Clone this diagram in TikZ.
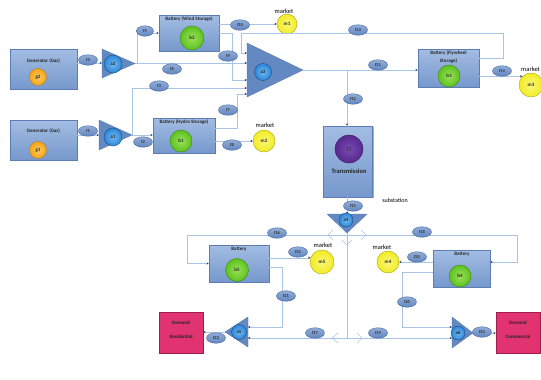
\documentclass[tikz,border=0pt]{standalone}
\usepackage{fontspec}
\setmainfont{Carlito}
\usetikzlibrary{shapes.geometric,arrows.meta,shadows}
\definecolor{linec}{HTML}{A9C4E4}
\definecolor{tipc}{HTML}{1F3864}
\definecolor{boxtop}{HTML}{A3BDE3}
\definecolor{boxbot}{HTML}{7698CC}
\definecolor{boxline}{HTML}{5B7DB3}
\definecolor{trif}{HTML}{6388C2}
\definecolor{ablue}{HTML}{2E86D8}
\definecolor{ablueL}{HTML}{6DB8F0}
\definecolor{ellT}{HTML}{90ADD8}
\definecolor{ellB}{HTML}{6386C0}
\definecolor{ellline}{HTML}{4A6BA3}
\definecolor{grn}{HTML}{5CC21E}
\definecolor{grnL}{HTML}{9AE05A}
\definecolor{org}{HTML}{F5A41C}
\definecolor{orgL}{HTML}{FBCB5A}
\definecolor{yel}{HTML}{F2EC22}
\definecolor{yelL}{HTML}{FAF67A}
\definecolor{pur}{HTML}{55298C}
\definecolor{purL}{HTML}{7A4BB5}
\definecolor{pnk}{HTML}{E0336F}
\definecolor{pnkline}{HTML}{A01E4E}
\begin{document}
\begin{tikzpicture}[x=1pt,y=-1pt,
  box/.style={draw=boxline, line width=0.5pt, top color=boxtop, bottom color=boxbot, inner sep=0pt,
    drop shadow={shadow xshift=1.2pt, shadow yshift=-1.2pt, opacity=0.45, fill=black!70}},
  dem/.style={draw=pnkline, line width=0.5pt, fill=pnk, inner sep=0pt,
    drop shadow={shadow xshift=1.2pt, shadow yshift=-1.2pt, opacity=0.45, fill=black!70}},
  btxt/.style={font=\fontsize{5}{5.5}\selectfont\bfseries, text=black!85, inner sep=0pt},
  dtxt/.style={font=\fontsize{5}{14}\selectfont\bfseries, text=black!85, inner sep=0pt, align=center},
  flab/.style={ellipse, draw=ellline, line width=0.4pt, top color=ellT, bottom color=ellB,
    minimum width=19pt, minimum height=10.5pt, inner sep=0pt, font=\fontsize{4.5}{4.5}\selectfont\bfseries, text=black!80},
  ball/.style={circle, line width=0.4pt, minimum size=#1, inner sep=0pt, font=\fontsize{5}{5}\selectfont\bfseries, text=black!85},
  gball/.style={ball=#1, draw=grn!70!black, inner color=grnL, outer color=grn},
  oball/.style={ball=#1, draw=org!75!black, inner color=orgL, outer color=org},
  yball/.style={ball=#1, draw=yel!70!black, inner color=yelL, outer color=yel},
  aball/.style={ball=#1, draw=ablue!60!black, inner color=ablueL, outer color=ablue},
  tri/.style={fill=trif, draw=trif!85!black, line width=0.3pt},
  conn/.style={draw=linec, line width=0.6pt},
  arr/.style={-{Stealth[length=2.3pt,width=2.2pt,color=tipc]}},
  chev/.style={draw=linec, line width=0.6pt},
  mkt/.style={font=\fontsize{6.5}{7}\selectfont, text=black, inner sep=0pt}]
\useasboundingbox (0,0) rectangle (541,380);

% ---------- boxes ----------
\node[box, minimum width=67pt, minimum height=40pt] (g2) at (43.5,69) {};
\node[btxt] (g2t) at (43.5,61) {Generator (Gas)};
\node[oball=17pt] (cg2) at (38,77) {g2};

\node[box, minimum width=67pt, minimum height=40pt] (g1) at (43.5,140) {};
\node[btxt] (g1t) at (43.5,131) {Generator (Gas)};
\node[oball=17pt] (cg1) at (38,150) {g1};

\node[box, minimum width=60pt, minimum height=36pt] (b2) at (189,33) {};
\node[btxt] (b2t) at (189,19) {Battery (Wind Storage)};
\node[gball=24pt] (cb2) at (192,38) {b2};

\node[box, minimum width=62pt, minimum height=35pt] (b1) at (184,135.5) {};
\node[btxt] (b1t) at (184,122) {Battery (Hydro Storage)};
\node[gball=22pt] (cb1) at (181,141) {b1};

\node[box, minimum width=61pt, minimum height=38pt] (b3) at (448.5,68) {};
\node[btxt, align=center, font=\fontsize{5}{7.5}\selectfont\bfseries] (b3t) at (448.5,57) {Battery (Flywheel\\Storage)};
\node[gball=22pt] (cb3) at (449,76) {b3};

\node[box, minimum width=49pt, minimum height=71pt] (t1) at (348,161.5) {};
\node[ball=28pt, draw=pur!70!black, inner color=purL, outer color=pur, font=\fontsize{6.5}{7}\selectfont] (ct1) at (349,149) {t1};
\node[btxt, font=\fontsize{6.5}{7}\selectfont\bfseries] (t1t) at (349,171) {Transmission};

\node[box, minimum width=60pt, minimum height=37pt] (b5) at (239,263.5) {};
\node[btxt] (b5t) at (239,249.5) {Battery};
\node[gball=23pt] (cb5) at (237,270) {b5};

\node[box, minimum width=57pt, minimum height=37pt] (b4) at (461.5,268.5) {};
\node[btxt] (b4t) at (462,254.5) {Battery};
\node[gball=22pt] (cb4) at (460,276) {b4};

\node[dem, minimum width=44pt, minimum height=41pt] (dres) at (181,332.5) {};
\node[dtxt] (drest) at (181,330) {Demand\\Residential};
\node[dem, minimum width=44pt, minimum height=41pt] (dcom) at (518,332.5) {};
\node[dtxt] (dcomt) at (518,330) {Demand\\Commercial};

% ---------- markets ----------
\node[yball=20pt] (m1) at (287,24) {m1};
\node[mkt] (m1t) at (284,11) {market};
\node[yball=22pt] (m2) at (264,141) {m2};
\node[mkt] (m2t) at (265,125.5) {market};
\node[yball=24pt] (m3) at (531,85) {m3};
\node[mkt, anchor=west] (m3t) at (521,69) {market};
\node[yball=24pt] (m5) at (322,262) {m5};
\node[mkt] (m5t) at (323,245) {market};
\node[yball=22pt] (m4) at (388,262) {m4};
\node[mkt] (m4t) at (382,247.5) {market};

% ---------- triangles (drawn) and their ports ----------
\fill[tri] (102,49) -- (102,78) -- (135,63.5) -- cycle;
\fill[tri] (99,120) -- (99,150) -- (132,135) -- cycle;
\fill[tri] (247,43) -- (247,97) -- (303,70) -- cycle;
\fill[tri] (327,214) -- (367,214) -- (347,233) -- cycle;
\fill[tri] (248,317) -- (248,347) -- (225,332) -- cycle;
\fill[tri] (452,317) -- (452,348) -- (473,333) -- cycle;

\coordinate (a2in) at (102,63);  \coordinate (a2tip) at (135,63);
\coordinate (a1in) at (99,135);  \coordinate (a1tip) at (132,135);
\coordinate (a3i1) at (247,53);  \coordinate (a3i2) at (247,63);
\coordinate (a3i3) at (247,80);  \coordinate (a3i4) at (247,88);
\coordinate (a3i5) at (247,94);  \coordinate (a3tip) at (303,70);
\coordinate (a4top) at (347,214); \coordinate (a4tip) at (347,233);
\coordinate (a5i1) at (248,327); \coordinate (a5i2) at (248,338); \coordinate (a5tip) at (225,332);
\coordinate (a6i1) at (452,327); \coordinate (a6i2) at (452,338); \coordinate (a6tip) at (473,333);
\coordinate (j1) at (347,235);   \coordinate (j2) at (347,338);

% ---------- connectors ----------
\draw[conn,arr] (g2.east |- a2in) -- (a2in);
\draw[conn,arr] (a2tip) -- (a3i2);
\draw[conn,arr] ([xshift=2pt]a2tip) |- (b2.west);
\draw[conn,arr] (b2.east |- m1) -- (m1);
\draw[conn,arr] (b2.east) -- ++(13,0) |- (a3i3);
\draw[conn,arr] ([yshift=10pt]b3.east) -- ++(24,0) -- ++(0,-25) -| ([xshift=-6pt]a3i1) -- (a3i1);
\draw[conn,arr] (g1.east |- a1in) -- (a1in);
\draw[conn,arr] (a1tip) -- (b1.west |- a1tip);
\draw[conn,arr] (a1tip) |- (a3i4);
\draw[conn,arr] ([yshift=7.5pt]b1.east) -- ++(22,0) |- (a3i5);
\draw[conn,arr] (b1.east |- m2) -- (m2);
\draw[conn,arr] (a3tip) -- (b3.west |- a3tip);
\draw[conn,arr] (a4top |- a3tip) -- (a4top |- t1.north);
\draw[conn,arr] (b3.east |- m3.north west) -- (m3.north west);
\draw[conn,arr] (a4top |- t1.south) -- (a4top);
\draw[conn] (a4tip) -- (j1);
\draw[conn,arr] (j1) -- (187,235) |- (b5.west);
\draw[conn,arr] (j1) -- (517,235) |- ([yshift=6.5pt]b4.east);
\draw[conn] (j1) -- (j2);
\draw[conn,arr] (j2) -- (a5i2);
\draw[conn,arr] (j2) -- (a6i2);
\draw[conn,arr] (b5.east |- m5.160) -- (m5.160);
\draw[conn,arr] ([yshift=-3.5pt]b5.east) -- ++(13,0) |- (a5i1);
\draw[conn,arr] (a5tip) -- (dres.east |- a5tip);
\draw[conn,arr] (b4.west |- m4) -- (m4);
\draw[conn,arr] ([yshift=-3.5pt]b4.west) -- (402,272) |- (a6i1);
\draw[conn,arr] (a6tip) -- (dcom.west |- a6tip);

% open chevrons
\draw[chev] (333,230) -- (328,235) -- (333,240);
\draw[chev] (361,230) -- (366,235) -- (361,240);
\draw[chev] (342,240) -- (347,245) -- (352,240);
\draw[chev] (338,333) -- (332,338) -- (338,343);
\draw[chev] (357,333) -- (362,338) -- (357,343);

% ---------- operator circles ----------
\node[aball=18pt] (a2) at (113,64) {a2};
\node[aball=18pt] (a1) at (113,137) {a1};
\node[aball=17pt] (a3) at (263,72) {a3};
\node[aball=14pt] (a4) at (346,220) {a4};
\node[aball=15pt] (a5) at (239,332) {a5};
\node[aball=14pt] (a6) at (458,333) {a6};

% ---------- flow labels ----------
\node[flab] (f1) at (88,131) {f1};
\node[flab] (f2) at (143,142) {f2};
\node[flab] (f3) at (159,86) {f3};
\node[flab] (f4) at (88,60) {f4};
\node[flab, minimum width=17pt] (f5) at (145,31) {f5};
\node[flab] (f6) at (172,69) {f6};
\node[flab] (f7) at (228,110) {f7};
\node[flab] (f8) at (232,145) {f8};
\node[flab] (f9) at (228,56) {f9};
\node[flab] (f10) at (240,25) {f10};
\node[flab] (f11) at (378,65) {f11};
\node[flab] (f12) at (353,99) {f12};
\node[flab] (f13) at (358,30) {f13};
\node[flab] (f14) at (502,71) {f14};
\node[flab] (f15) at (353,206) {f15};
\node[flab] (f16) at (277,233) {f16};
\node[flab] (f17) at (315,333) {f17};
\node[flab] (f18) at (422,232) {f18};
\node[flab] (f19) at (378,333) {f19};
\node[flab] (f20) at (407,302) {f20};
\node[flab] (f21) at (286,296) {f21};
\node[flab] (f22) at (298,252) {f22};
\node[flab] (f23) at (216,338) {f23};
\node[flab] (f24) at (482,332) {f24};
\node[flab] (f25) at (417,257) {f25};

\node[mkt, font=\fontsize{6}{7}\selectfont] (subst) at (395,200) {substation};
\end{tikzpicture}
\end{document}
